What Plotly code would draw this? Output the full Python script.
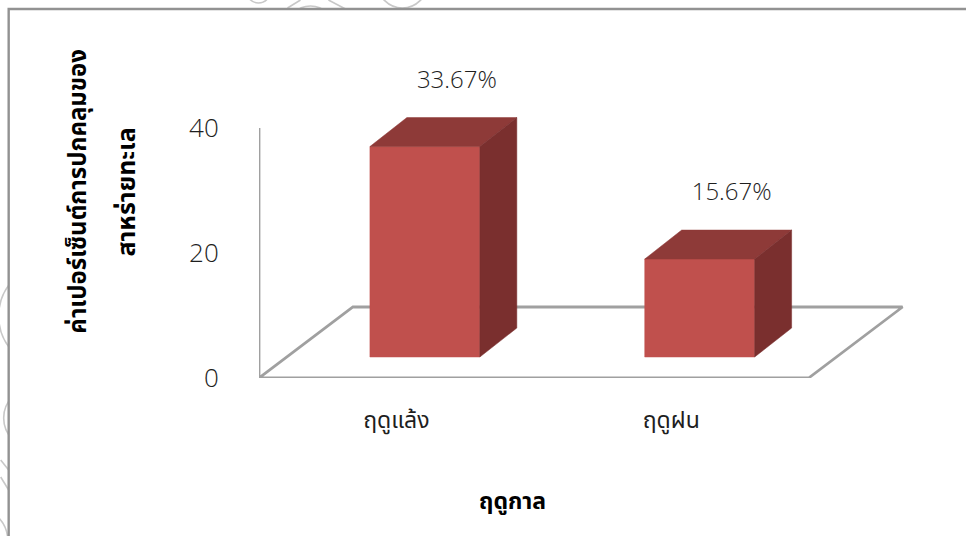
import plotly.graph_objects as go

categories = ["ฤดูแล้ง", "ฤดูฝน"]
values = [33.67, 15.67]
labels = ["33.67%", "15.67%"]
y_ticks = [0, 20, 40]
y_title_lines = ["ค่าเปอร์เซ็นต์การปกคลุมของ", "สาหร่ายทะเล"]
x_title = "ฤดูกาล"

W, H = 966, 536
L, B = 258.5, 378
PX_X = 275.0                # pixels per category
PX_Y = 6.25                 # pixels per value unit
BAR_W = 0.4
FLOOR_DX, FLOOR_DY = 94 / PX_X, 71 / PX_Y
BAR_DX, BAR_DY = 37 / PX_X, 29 / PX_Y
INSET_DX, INSET_DY = (FLOOR_DX - BAR_DX) / 2, (FLOOR_DY - BAR_DY) / 2
FONT = "Open Sans"
THAI = "Noto Sans Thai, Noto Sans, Open Sans, DejaVu Sans, sans-serif"
FRONT, TOP, SIDE = "#C0504D", "#8E3A38", "#7A2F2E"
AXIS = "#A0A0A0"
INK = "#1E1E1E"

fig = go.Figure()

# floor and axis lines
fig.add_trace(go.Scatter(
    x=[0, 0, FLOOR_DX, 2 + FLOOR_DX, 2, 0],
    y=[40, 0, FLOOR_DY, FLOOR_DY, 0, 0],
    mode="lines", line=dict(color=AXIS, width=2.8),
    hoverinfo="skip", showlegend=False))


def face(xs, ys, color):
    fig.add_trace(go.Scatter(x=xs + xs[:1], y=ys + ys[:1], mode="lines", fill="toself",
                             fillcolor=color, line=dict(color=color, width=0.5),
                             hoverinfo="skip", showlegend=False))


for i, v in enumerate(values):
    x0 = i + 0.5 - BAR_W / 2 + INSET_DX
    x1 = x0 + BAR_W
    y0 = INSET_DY
    y1 = INSET_DY + v
    face([x0, x1, x1, x0], [y0, y0, y1, y1], FRONT)
    face([x0, x1, x1 + BAR_DX, x0 + BAR_DX], [y1, y1, y1 + BAR_DY, y1 + BAR_DY], TOP)
    face([x1, x1 + BAR_DX, x1 + BAR_DX, x1], [y0, y0 + BAR_DY, y1 + BAR_DY, y1], SIDE)

fig.add_trace(go.Scatter(
    x=[i + 0.5 + INSET_DX + 32 / PX_X for i in range(len(values))],
    y=[v + INSET_DY + 10.4 for v in values],
    mode="text", text=labels, textposition="middle center",
    textfont=dict(family=FONT, size=24, color=INK, weight=300),
    hoverinfo="skip", showlegend=False))


def px(x):
    return (x - L) / (W - L)


def py(y):
    return (B - y) / B


shapes = []
# faint watermark behind the panel
for cx, cy, r in [(258, -9, 12), (402, -17, 25), (310, 30, 24),
                  (50, 316, 52), (33, 418, 30), (-25, 540, 32)]:
    shapes.append(dict(type="circle", xref="paper", yref="paper",
                       x0=px(cx - r), x1=px(cx + r), y0=py(cy + r), y1=py(cy - r),
                       line=dict(color="#C8C8C8", width=1.6), layer="below"))
for xa, ya, xb, yb in [(287, 8, 300, 0), (347, 10, 328, 0), (0, 460, 8, 470), (0, 477, 8, 490)]:
    shapes.append(dict(type="line", xref="paper", yref="paper",
                       x0=px(xa), x1=px(xb), y0=py(ya), y1=py(yb),
                       line=dict(color="#C8C8C8", width=1.6), layer="below"))
# white panel with left and top border
shapes.append(dict(type="rect", xref="paper", yref="paper",
                   x0=px(8), x1=px(W + 10), y0=py(H + 10), y1=py(9),
                   fillcolor="white", line=dict(color="#929292", width=2.4), layer="below"))

annotations = [
    dict(text="<b>%s</b>" % y_title_lines[0], x=px(78), y=py(191), xref="paper", yref="paper",
         textangle=-90, showarrow=False, xanchor="center", yanchor="middle",
         font=dict(family=THAI, size=24, color="black")),
    dict(text="<b>%s</b>" % y_title_lines[1], x=px(126), y=py(192), xref="paper", yref="paper",
         textangle=-90, showarrow=False, xanchor="center", yanchor="middle",
         font=dict(family=THAI, size=25, color="black")),
    dict(text="<b>%s</b>" % x_title, x=px(512), y=py(502), xref="paper", yref="paper",
         showarrow=False, xanchor="center", yanchor="middle",
         font=dict(family=THAI, size=23, color="black")),
]

fig.update_layout(
    width=W, height=H, autosize=False,
    margin=dict(l=L, r=0, t=0, b=H - B, pad=0),
    paper_bgcolor="white", plot_bgcolor="rgba(0,0,0,0)",
    shapes=shapes, annotations=annotations, showlegend=False,
    xaxis=dict(range=[0, (W - L) / PX_X], tickmode="array", tickvals=[0.5, 1.5], ticktext=categories,
               showgrid=False, zeroline=False, showline=False,
               ticks="outside", ticklen=21, tickcolor="rgba(0,0,0,0)",
               tickfont=dict(family=THAI, size=23, color=INK)),
    yaxis=dict(range=[0, B / PX_Y], tickmode="array", tickvals=y_ticks, ticktext=[str(t) for t in y_ticks],
               showgrid=False, zeroline=False, showline=False,
               ticks="outside", ticklen=34, tickcolor="rgba(0,0,0,0)",
               tickfont=dict(family=FONT, size=26, color=INK, weight=300)),
)

fig.write_html("out.html", config=dict(displayModeBar=False),
               post_script="document.body.style.margin='0';")
